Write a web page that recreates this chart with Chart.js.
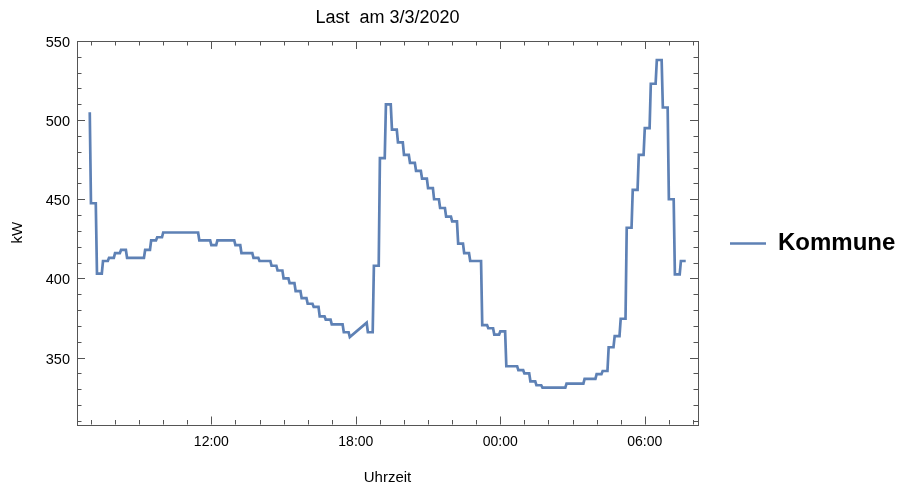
<!DOCTYPE html>
<html lang="de">
<head>
<meta charset="utf-8">
<title>Last am 3/3/2020</title>
<style>
  html, body { margin: 0; padding: 0; background: #fff; }
  #wrap { width: 900px; height: 487px; }
</style>
</head>
<body>

<div id="wrap"><canvas id="lastChart" width="900" height="487"></canvas></div>

<script src="https://cdn.jsdelivr.net/npm/chart.js@4.4.0/dist/chart.umd.min.js"></script>
<script>
// Viertelstundenwerte, erster Wert um 06:30 (Stunden ab 3/3 00:00), null = kein Messwert
const ersteViertelstunde = 6.5;
const kommuneKW = [
  null, 505,
  447.5, 403, 411, 413, 416, 418, 413, 413, 413, 418,
  424, 426, 429, 429, 429, 429, 429, 429, 424, 424,
  421, 424, 424, 424, 421, 416, 416, 413, 411, 411,
  408, 405, 400, 397, 392, 387.5, 384, 382, 376, 374,
  371, 371, 366, 363, null, 372, 366, 408, 476, 510,
  494, 486, 478, 473, 468, 463, 457, 450, 444.5, 439,
  436, 422, 416, 411, 411, 370.5, 368.5, 364.5, 366.5, 344.5,
  344.5, 342, 340, 335, 332.5, 331, 331, 331, 331, 333.5,
  333.5, 333.5, 336.5, 336.5, 339.5, 341.5, 356.5, 363.5, 374.5, 432,
  456, 478, 495, 523, 538, 508, 450, 402.5, 411
];
const tickStunden = [12, 18, 24, 30];
const tickLabels = ['12:00', '18:00', '00:00', '06:00'];
const yLabels = [350, 400, 450, 500, 550];

const FONT = '"Liberation Sans", Arial, Helvetica, sans-serif';
const LINIE = '#5E81B5';

// jeder Viertelstundenwert wird 12 min gehalten, dann Übergang zum nächsten
const HALTEZEIT = 0.2;
const punkte = [];
kommuneKW.forEach(function(v, i){
  if (v === null) return;
  const t = ersteViertelstunde + i * 0.25;
  if (kommuneKW[i - 1] !== null) punkte.push({x: t, y: v});
  if (kommuneKW[i + 1] !== null) punkte.push({x: t + HALTEZEIT, y: v});
});

// Rahmen mit Ticks nach innen (wie Mathematica)
const rahmen = {
  id: 'rahmen',
  beforeDatasetsDraw: function(chart) {
    const ctx = chart.ctx;
    const a = chart.chartArea;
    const sx = chart.scales.x, sy = chart.scales.y;
    ctx.save();
    ctx.strokeStyle = '#555';
    ctx.lineWidth = 1;
    ctx.beginPath();
    sx.ticks.forEach(function(t){
      const px = Math.round(sx.getPixelForValue(t.value)) + 0.5;
      const len = t.value % 6 === 0 ? 8 : 4.5;
      ctx.moveTo(px, a.bottom); ctx.lineTo(px, a.bottom - len);
      ctx.moveTo(px, a.top); ctx.lineTo(px, a.top + len);
    });
    sy.ticks.forEach(function(t){
      const py = Math.round(sy.getPixelForValue(t.value)) + 0.5;
      const len = t.value % 50 === 0 ? 8 : 4.5;
      ctx.moveTo(a.left, py); ctx.lineTo(a.left + len, py);
      ctx.moveTo(a.right, py); ctx.lineTo(a.right - len, py);
    });
    ctx.stroke();
    ctx.strokeRect(Math.round(a.left) + 0.5, Math.round(a.top) + 0.5,
                   Math.round(a.right - a.left), Math.round(a.bottom - a.top));
    ctx.restore();
  }
};

const ctx = document.getElementById('lastChart').getContext('2d');
const myChart = new Chart(ctx, {
  type: 'line',
  data: {
    datasets: [{
      label: 'Kommune',
      data: punkte,
      borderColor: LINIE,
      backgroundColor: LINIE,
      borderWidth: 2.7,
      pointRadius: 0,
      tension: 0,
      fill: false
    }]
  },
  options: {
    responsive: false,
    animation: false,
    layout: { padding: 0 },
    plugins: {
      title: {
        display: true,
        text: 'Last  am 3/3/2020',
        fullSize: false,
        color: '#000',
        font: { family: FONT, size: 18, weight: 'normal', lineHeight: 1.2 },
        padding: { top: 7, bottom: 12.4 }
      },
      legend: {
        position: 'right',
        maxWidth: 202,
        labels: {
          usePointStyle: true,
          pointStyle: 'line',
          pointStyleWidth: 36,
          padding: 32,
          color: '#000',
          font: { family: FONT, size: 24, weight: 'bold' }
        }
      },
      tooltip: { enabled: false }
    },
    scales: {
      x: {
        type: 'linear',
        min: 6.42,
        max: 32.21,
        grid: { display: false, drawTicks: false },
        border: { display: false },
        ticks: {
          stepSize: 1,
          includeBounds: false,
          autoSkip: false,
          maxRotation: 0,
          padding: 9,
          color: '#000',
          font: { family: FONT, size: 14 },
          callback: function(v){
            const k = tickStunden.indexOf(v);
            return k >= 0 ? tickLabels[k] : '';
          }
        },
        title: {
          display: true,
          text: 'Uhrzeit',
          color: '#000',
          font: { family: FONT, size: 15 },
          padding: { top: 0, bottom: 0 }
        },
        afterFit: function(s){ s.height = 62.5; }
      },
      y: {
        min: 307.7,
        max: 550,
        grid: { display: false, drawTicks: false },
        border: { display: false },
        ticks: {
          stepSize: 10,
          includeBounds: false,
          autoSkip: false,
          padding: 7,
          labelOffset: 2,
          color: '#000',
          font: { family: FONT, size: 14.5 },
          callback: function(v){ return yLabels.indexOf(v) >= 0 ? v : ''; }
        },
        title: {
          display: true,
          text: 'kW',
          color: '#000',
          font: { family: FONT, size: 15 },
          padding: { top: 9, bottom: 0 }
        },
        afterFit: function(s){ s.width = 77; }
      }
    }
  },
  plugins: [rahmen]
});
</script>
</body>
</html>
